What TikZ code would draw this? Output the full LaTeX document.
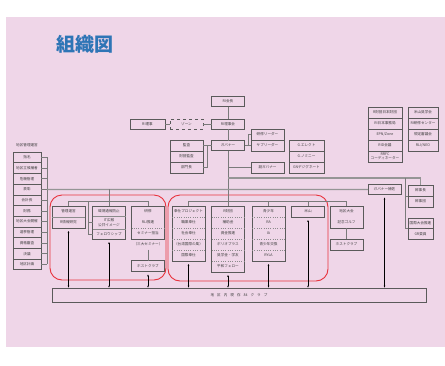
\documentclass[tikz,border=0pt]{standalone}
\usepackage{fontspec}
\setmainfont{Noto Sans CJK JP}
\usepackage{tikz}
\usetikzlibrary{arrows.meta}
\usetikzlibrary{fit}
\usetikzlibrary{calc}
\usetikzlibrary{positioning}
\usepackage{xcolor}
\definecolor{mybg}{HTML}{EFD6E8}
\definecolor{myblue}{HTML}{2E75B6}
\definecolor{myred}{HTML}{E8323C}
\definecolor{myframe}{HTML}{5A5A5A}
\definecolor{myline}{HTML}{7A7A7A}
\tikzset{x=1pt, y=-1pt}
\tikzstyle{cell} = [minimum width=33pt, minimum height=11pt, inner sep=0pt, outer sep=0pt, align=center, text=black!75, font={\fontsize{3.6}{4.3}\selectfont}]
\tikzstyle{block} = [cell, draw=myframe, line width=0.6pt]
\tikzstyle{frame} = [draw=myframe, line width=0.6pt, inner sep=0pt, outer sep=0pt]
\tikzstyle{sep} = [draw=myframe!70, line width=0.3pt]
\tikzstyle{dotsep} = [sep, dotted]
\tikzstyle{ln} = [draw=myline, line width=0.6pt]
\tikzstyle{bus} = [draw=myline!80, line width=1.2pt]
\tikzstyle{club} = [draw=myred, line width=0.9pt, rounded corners=12pt]
\tikzstyle{link} = [draw=black, line width=0.4pt, {Stealth[length=2pt,width=1.6pt]}-{Stealth[length=2pt,width=1.6pt]}]

\begin{document}
\begin{tikzpicture}
  \useasboundingbox (0,0) rectangle (445,365);
  \fill[mybg] (6,17) rectangle (445,347);
  \node[anchor=west, text=myblue, font={\fontsize{19}{20}\selectfont\bfseries}] (title) at (53,44) {組織図};

  % RI and governor
  \node[block, minimum height=10pt] (kaicho) at (228,101.5) {RI会長};
  \node[block, minimum height=10pt] (rijikai) at (228,124) {RI理事会};
  \node[block, minimum height=10pt, dashed] (zone) at (186.5,124) {ゾーン};
  \node[block, minimum height=10pt, minimum width=35pt] (riji) at (147.5,124) {RI理事};
  \node[block, minimum height=10pt] (gov) at (228,145.5) {ガバナー};
  \foreach \t [count=\i] in {監査,財団監査,部門長}
    \node[block] (kansa-\i) at (186.5,134.5+11*\i) {\t};
  \foreach \t [count=\i] in {研修リーダー,サブリーダー}
    \node[block] (lead-\i) at (267.5,123.5+11*\i) {\t};
  \node[block] (fukugov) at (267.5,167.5) {副ガバナー};
  \foreach \t [count=\i] in {G.エレクト,G.ノミニー,GNデジグネート}
    \node[block, minimum width=35pt] (gsel-\i) at (306.5,134.5+11*\i) {\t};

  % top right
  \foreach \t [count=\i] in {R財団日本財団,RI日本事務局,{EPN/Zone},RID会議,{RRFC\\コーディネーター}}
    \node[block, minimum width=34pt] (japan-\i) at (385,101.5+11*\i) {\t};
  \foreach \t [count=\i] in {米山奨学会,RI研修センター,規定審議会,{RLI/NEO}}
    \node[block, minimum width=30pt] (yone-\i) at (423,101.5+11*\i) {\t};

  % district administration
  \node[cell] (kanku-head) at (27,145) {地区管理運営};
  \foreach \t [count=\i] in {指名,地区立候補者,危機管理,表彰,会計長,財務,地区大会開催,選挙管理,資格審査,決議,地区計画}
    \node[block, minimum width=28pt, minimum height=10.7pt] (kanku-\i) at (27,146.65+10.7*\i) {\t};

  % club committees
  \node[club, minimum width=116pt, minimum height=85pt] (grp-1) at (108,237.5) {};
  \node[club, minimum width=160pt, minimum height=86pt] (grp-2) at (248,238) {};

  \foreach \t [count=\i] in {管理運営,R情報研究}
    \node[cell] (kanri-\i) at (68.5,200.5+11*\i) {\t};
  \node[frame, fit=(kanri-1)(kanri-2)] (kanri) {};
  \draw[sep] (kanri-1.south west) -- (kanri-1.south east);

  \node[cell, minimum height=10pt] (bokin-1) at (109,211) {環境通報防止};
  \node[cell, minimum height=13pt, below=0pt of bokin-1] (bokin-2) {IT広報\\公共イメージ};
  \node[cell, minimum height=10pt, below=0pt of bokin-2] (bokin-3) {フェロウシップ};
  \node[frame, fit=(bokin-1)(bokin-3)] (bokin) {};
  \foreach \i in {1,2}
    \draw[sep] (bokin-\i.south west) -- (bokin-\i.south east);

  \foreach \t [count=\i] in {研修,RLI推進,セミナー担当}
    \node[cell] (kenshu-\i) at (148,200.5+11*\i) {\t};
  \node[frame, fit=(kenshu-1)(kenshu-3)] (kenshu) {};
  \draw[dotsep] (kenshu-2.south west) -- (kenshu-2.south east);
  \node[cell] (semi) at (148,244) {（三大セミナー）};
  \node[block] (host1) at (148,266) {ホストクラブ};

  \foreach \t [count=\i] in {奉仕プロジェクト,職業奉仕,社会奉仕,（台湾国際の風）,国際奉仕}
    \node[cell] (hoshi-\i) at (188.5,200.5+11*\i) {\t};
  \node[frame, fit=(hoshi-1)(hoshi-5)] (hoshi) {};
  \foreach \i in {1,...,4}
    \draw[dotsep] (hoshi-\i.south west) -- (hoshi-\i.south east);

  \foreach \t [count=\i] in {R財団,補助金,資金推進,ポリオプラス,奨学金・学友,平和フェロー}
    \node[cell] (zaidan-\i) at (228,200.5+11*\i) {\t};
  \node[frame, fit=(zaidan-1)(zaidan-6)] (zaidan) {};
  \foreach \i in {1,...,5}
    \draw[dotsep] (zaidan-\i.south west) -- (zaidan-\i.south east);

  \foreach \t [count=\i] in {青少年,RA,IA,青少年交換,RYLA}
    \node[cell] (seisho-\i) at (268.5,200.5+11*\i) {\t};
  \node[frame, fit=(seisho-1)(seisho-5)] (seisho) {};
  \foreach \i in {1,...,4}
    \draw[dotsep] (seisho-\i.south west) -- (seisho-\i.south east);

  \node[block] (yoneyama) at (308,211.5) {米山};

  % right side
  \foreach \t [count=\i] in {地区大会,記念ゴルフ}
    \node[cell] (taikai-\i) at (346.5,200.5+11*\i) {\t};
  \node[frame, fit=(taikai-1)(taikai-2)] (taikai) {};
  \node[block] (host2) at (346.5,244.5) {ホストクラブ};
  \node[block, minimum height=10pt] (hosa) at (384.5,189.5) {ガバナー補佐};
  \foreach \t [count=\i] in {幹事長,幹事団}
    \node[block, minimum width=25pt] (kanji-\i) at (420.5,179.5+11*\i) {\t};
  \node[frame, fit=(kanji-1)(kanji-2)] (kanji) {};
  \foreach \t [count=\i] in {国際大会推進,GR委員}
    \node[block, minimum width=25pt, minimum height=10.5pt] (kokusai-\i) at (420.5,212.75+10.5*\i) {\t};
  \node[frame, fit=(kokusai-1)(kokusai-2)] (kokusai) {};

  \node[draw=myframe, line width=0.8pt, minimum width=374pt, minimum height=14pt, text=black!75, font={\fontsize{3.6}{4.3}\selectfont}] (club) at (239,295) {地\hspace{3pt}区\hspace{3pt}内\hspace{3pt}現\hspace{3pt}存\hspace{3pt}84\hspace{3pt}ク\hspace{3pt}ラ\hspace{3pt}ブ};

  % connectors
  \coordinate (j-gov) at (228,178);
  \coordinate (j-kanji) at (405,178);
  \coordinate (j-kanku) at ($(kanku-4.east)+(6,0)$);
  \coordinate (bar1) at (109,201.5);
  \coordinate (br1) at (88,201.5);
  \coordinate (bar2) at (228,201.5);

  \draw[ln] (kaicho) -- (rijikai);
  \draw[ln] (riji) -- (zone);
  \draw[ln] (zone) -- (rijikai);
  \draw[ln] (rijikai) -- (gov);
  \draw[ln] (gov) -- (zaidan.north);
  \draw[ln] (gov.west) -- (kansa-1.east);
  \draw[ln] (gov.west) -- ++(-4,0) |- (kansa-3.east);
  \draw[ln] (gov.east) -- (lead-2.west);
  \draw[ln] (gov.east) -- ++(3.5,0) |- (lead-1.west);
  \draw[ln] (gov.south |- fukugov) -- (fukugov.west);

  \draw[bus] (j-gov) -| (kanji.north);
  \draw[ln] (j-kanji) |- (kokusai.west);
  \draw[ln] (j-kanji |- kanji.west) -- (kanji.west);

  \foreach \i in {1,...,11}
    \draw[ln] (kanku-\i.east) -- ++(6,0);
  \draw[ln] ($(kanku-1.east)+(6,0)$) -- ($(kanku-11.east)+(6,0)$);
  \draw[bus] (j-kanku) -- (hosa.west);

  \draw[ln] (bokin.north |- j-kanku) -- (bokin.north);
  \draw[ln] (kanri.north) |- (bar1) -| (kenshu.north);
  \draw[ln] (br1) |- (bokin-3.west);
  \draw[ln] (br1 |- bokin-2.west) -- (bokin-2.west);
  \draw[ln] (semi) -- (host1);

  \draw[ln] (hoshi.north) |- (bar2) -| (taikai.north);
  \draw[ln] (seisho.north) -- (seisho.north |- bar2);
  \draw[ln] (yoneyama.north) -- (yoneyama.north |- bar2);
  \draw[ln] (taikai) -- (host2);

  \foreach \n in {kanri,bokin,host1,hoshi,zaidan,seisho,yoneyama,hosa}
    \draw[link] ($(\n.south)+(0,3)$) -- (\n.south |- club.north);
\end{tikzpicture}
\end{document}
